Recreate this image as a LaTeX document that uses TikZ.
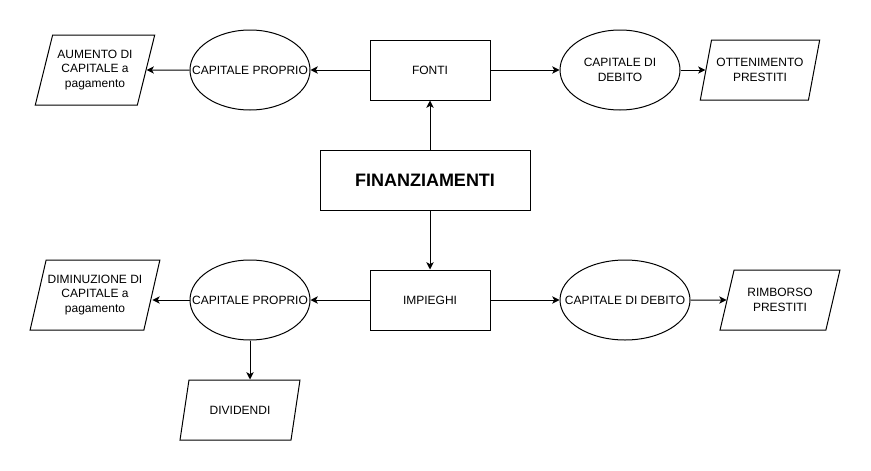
\documentclass[tikz,border=0pt]{standalone}
\usepackage{fontspec}
\setmainfont{Liberation Sans}
\usetikzlibrary{shapes.geometric,arrows.meta}

\begin{document}
\begin{tikzpicture}[x=0.75pt,y=-0.75pt,
  font=\fontsize{9}{11}\selectfont, line width=0.75pt,
  box/.style={draw,rectangle,minimum width=90pt,minimum height=45pt},
  oval/.style={draw,ellipse,inner xsep=-15pt,minimum width=90pt,minimum height=60pt,align=center},
  parallelo/.style={draw,trapezium,trapezium left angle=72,trapezium right angle=108,
    trapezium stretches=true,inner xsep=1pt,minimum width=90pt,minimum height=45pt,align=center},
  pfeil/.style={-{Stealth[length=5.5pt,width=5.5pt,inset=1.5pt]}}]
  \useasboundingbox (0,0) rectangle (871,471);
  % Mitte
  \node[box,minimum width=157.5pt,font=\fontsize{13.5}{16}\selectfont\bfseries] (finanz) at (425,180) {FINANZIAMENTI};
  % Zweig oben
  \node[box] (fonti) at (430,70) {FONTI};
  \node[oval] (cpoben) at (250,70) {CAPITALE PROPRIO};
  \node[parallelo,minimum height=52.5pt] (aumento) at (95,70) {AUMENTO DI\\CAPITALE a\\pagamento};
  \node[oval] (cdoben) at (620,70) {CAPITALE DI\\DEBITO};
  \node[parallelo] (ottenimento) at (760,70) {OTTENIMENTO\\PRESTITI};
  % Zweig unten
  \node[box] (impieghi) at (430,300) {IMPIEGHI};
  \node[oval] (cpunten) at (250,300) {CAPITALE PROPRIO};
  \node[parallelo,minimum width=97.5pt,minimum height=52.5pt] (diminuzione) at (95,295) {DIMINUZIONE DI\\CAPITALE a\\pagamento};
  \node[parallelo] (dividendi) at (240,410) {DIVIDENDI};
  \node[oval,minimum width=97.5pt] (cdunten) at (625,300) {CAPITALE DI DEBITO};
  \node[parallelo] (rimborso) at (780,300) {RIMBORSO\\PRESTITI};
  % Pfeile oben
  \draw[pfeil] (finanz.north -| fonti.south) -- (fonti.south);
  \draw[pfeil] (fonti) -- (cpoben);
  \draw[pfeil] (cpoben) -- (aumento);
  \draw[pfeil] (fonti) -- (cdoben);
  \draw[pfeil] (cdoben) -- (ottenimento);
  % Pfeile unten
  \draw[pfeil] (finanz.south -| impieghi.north) -- (impieghi.north);
  \draw[pfeil] (impieghi) -- (cpunten);
  \draw[pfeil] (cpunten.west) -- (cpunten.west -| diminuzione.east);
  \draw[pfeil] (cpunten.south) -- (cpunten.south |- dividendi.north);
  \draw[pfeil] (impieghi) -- (cdunten);
  \draw[pfeil] (cdunten) -- (rimborso);
\end{tikzpicture}
\end{document}
